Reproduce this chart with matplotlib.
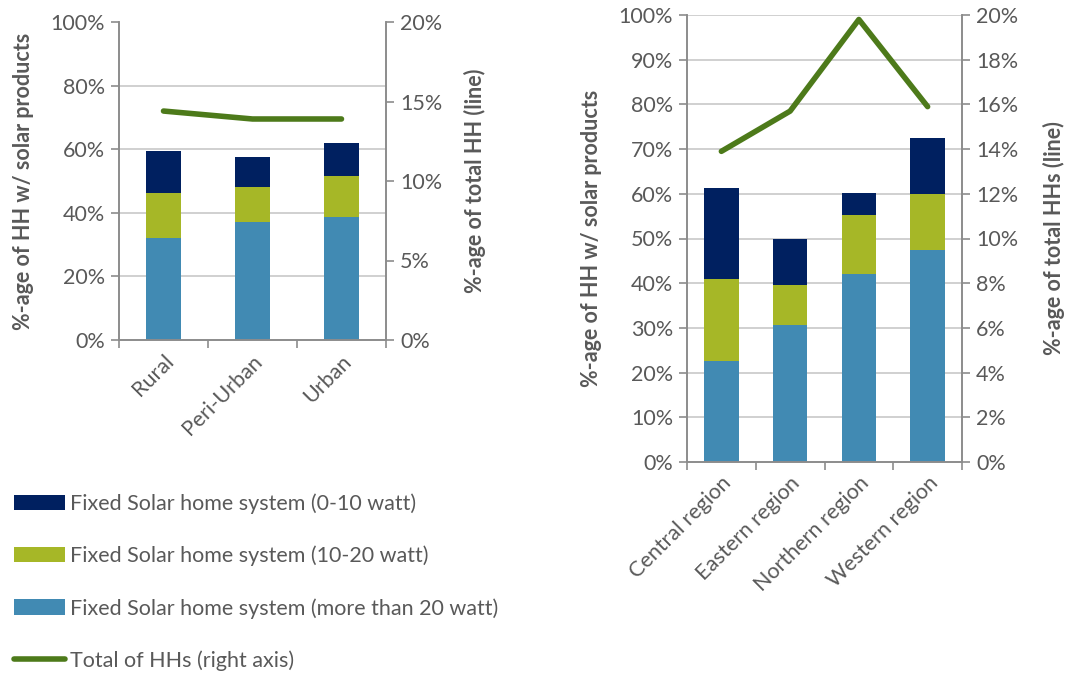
import matplotlib.pyplot as plt
import matplotlib.ticker as mticker
from matplotlib.patches import Patch
from matplotlib.lines import Line2D
import numpy as np

plt.rcParams['font.family'] = ['Lato', 'DejaVu Sans']

# Left panel: by settlement type
area_cats = ["Rural", "Peri-Urban", "Urban"]
area_gt20 = [32.0, 37.0, 38.6]
area_10_20 = [14.2, 11.0, 13.1]
area_0_10 = [13.1, 9.7, 10.4]
area_total = [14.4, 13.9, 13.9]

# Right panel: by region
region_cats = ["Central region", "Eastern region", "Northern region", "Western region"]
region_gt20 = [22.6, 30.6, 42.1, 47.4]
region_10_20 = [18.3, 9.0, 13.2, 12.5]
region_0_10 = [20.3, 10.3, 4.8, 12.5]
region_total = [13.9, 15.7, 19.8, 15.9]

labels = ["Fixed Solar home system (0-10 watt)",
          "Fixed Solar home system (10-20 watt)",
          "Fixed Solar home system (more than 20 watt)",
          "Total of HHs (right axis)"]

C_NAVY = "#002060"
C_LIME = "#A6B727"
C_BLUE = "#418AB3"
C_LINE = "#4D7A1A"
C_TEXT = "#595959"
C_GRID = "#C8C8C8"
C_SPINE = "#8C8C8C"
FS = 15.5

W, H = 1066, 673
fig = plt.figure(figsize=(W / 100, H / 100), dpi=100)


def panel(rect, cats, gt20, mid, low, total, width, left_ticks, right_ticks,
          left_label, right_label, top_grid, lpad, rpad):
    ax = fig.add_axes(rect)
    x = np.arange(len(cats))
    gt20 = np.array(gt20)
    mid = np.array(mid)
    low = np.array(low)
    ax.bar(x, gt20, width, color=C_BLUE, zorder=2)
    ax.bar(x, mid, width, bottom=gt20, color=C_LIME, zorder=2)
    ax.bar(x, low, width, bottom=gt20 + mid, color=C_NAVY, zorder=2)
    ax.set_xlim(-0.5, len(cats) - 0.5)
    ax.set_ylim(0, 100)
    ax.set_yticks(left_ticks)
    ax.yaxis.set_major_formatter(mticker.FuncFormatter(lambda v, p: f"{v:.0f}%"))
    grid_vals = left_ticks[1:] if top_grid else left_ticks[1:-1]
    for g in grid_vals:
        ax.axhline(g, color=C_GRID, lw=1.2, zorder=1)
    ax.set_xticks(np.arange(len(cats) + 1) - 0.5, minor=False)
    ax.set_xticklabels([])
    ax.set_xticks(x, minor=True)
    ax.set_xticklabels(cats, minor=True, rotation=45, ha='right',
                       rotation_mode='anchor', fontsize=FS, color=C_TEXT)
    ax.tick_params(axis='x', which='minor', length=0, pad=8)
    ax.tick_params(axis='x', which='major', length=6, color=C_SPINE, width=1.2)
    ax.tick_params(axis='y', length=6, color=C_SPINE, width=1.2,
                   labelsize=FS, labelcolor=C_TEXT, pad=4)
    ax.spines['top'].set_visible(False)
    for s in ['left', 'bottom', 'right']:
        ax.spines[s].set_color(C_SPINE)
        ax.spines[s].set_linewidth(1.2)
    ax.set_ylabel(left_label, fontsize=FS, fontweight='bold', color=C_TEXT, labelpad=lpad)

    ax2 = ax.twinx()
    ax2.plot(x, total, color=C_LINE, lw=4, solid_capstyle='round', zorder=3)
    ax2.set_ylim(0, 20)
    ax2.set_yticks(right_ticks)
    ax2.yaxis.set_major_formatter(mticker.FuncFormatter(lambda v, p: f"{v:.0f}%"))
    ax2.tick_params(axis='y', length=6, color=C_SPINE, width=1.2,
                    labelsize=FS, labelcolor=C_TEXT, pad=4)
    ax2.spines['top'].set_visible(False)
    for s in ['left', 'bottom', 'right']:
        ax2.spines[s].set_color(C_SPINE)
        ax2.spines[s].set_linewidth(1.2)
    ax2.set_ylabel(right_label, fontsize=FS, fontweight='bold', color=C_TEXT, labelpad=rpad)
    return ax, ax2


def rect(x0, y0, x1, y1):
    return [x0 / W, 1 - y1 / H, (x1 - x0) / W, (y1 - y0) / H]


panel(rect(119, 22, 386, 340), area_cats, area_gt20, area_10_20, area_0_10, area_total,
      0.4, [0, 20, 40, 60, 80, 100], [0, 5, 10, 15, 20],
      "%-age of HH w/ solar products", "%-age of total HH (line)", False, 12, 16)

panel(rect(687, 15, 962, 462), region_cats, region_gt20, region_10_20, region_0_10,
      region_total, 0.5, list(range(0, 101, 10)), list(range(0, 21, 2)),
      "%-age of HH w/ solar products", "%-age of total HHs (line)", True, 12, 18)

handles = [Patch(facecolor=C_NAVY), Patch(facecolor=C_LIME), Patch(facecolor=C_BLUE),
           Line2D([0], [0], color=C_LINE, lw=4, solid_capstyle='round')]
fig.legend(handles, labels, loc='upper left', bbox_to_anchor=(14 / W, 1 - 493 / H),
           frameon=False, fontsize=FS, labelcolor=C_TEXT, handlelength=2.35,
           handleheight=0.7, handletextpad=0.25, labelspacing=1.48,
           borderpad=0, borderaxespad=0)

fig.savefig("out.png", dpi=100)
